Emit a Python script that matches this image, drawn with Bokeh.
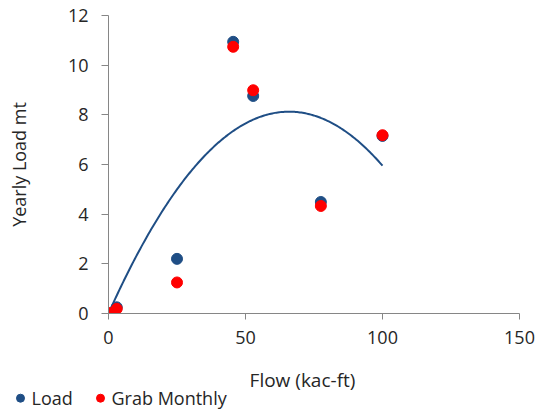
import numpy as np
from bokeh.plotting import figure
from bokeh.layouts import column, row
from bokeh.models import Range1d, FixedTicker
from bokeh.core.properties import value
from bokeh.embed import file_html
from bokeh.resources import INLINE

# Data
flow = [0, 3, 25, 45.5, 52.8, 77.5, 100]
load = [0, 0.25, 2.2, 10.94, 8.76, 4.49, 7.15]
grab_monthly = [0.02, 0.19, 1.25, 10.74, 8.99, 4.33, 7.18]
x_ticks = [0, 50, 100, 150]
y_ticks = [0, 2, 4, 6, 8, 10, 12]
series_names = ["Load", "Grab Monthly"]
x_title = "Flow (kac-ft)"
y_title = "Yearly Load mt"

BLUE = "#1F4E85"
RED = "#FF0000"
AXIS = "#868686"
TEXT = "#262626"
FONT = "Open Sans"
FS = "18px"

# 2nd-order polynomial trendline of Load, intercept set to 0 (as in the spreadsheet)
xa = np.array(flow, dtype=float)
ya = np.array(load, dtype=float)
A = np.column_stack([xa, xa ** 2])
coef, *_ = np.linalg.lstsq(A, ya, rcond=None)
trend_x = np.linspace(min(flow), max(flow), 200)
trend_y = coef[0] * trend_x + coef[1] * trend_x ** 2

p = figure(width=540, height=360, output_backend="svg", toolbar_location=None,
           x_range=Range1d(0, 150), y_range=Range1d(0, 12),
           min_border_left=108, min_border_right=21, min_border_top=15, min_border_bottom=47)
p.outline_line_color = None
p.grid.grid_line_color = None
p.background_fill_color = "white"
p.border_fill_color = "white"

p.line(trend_x, trend_y, line_color=BLUE, line_width=2)
p.scatter(flow, load, size=11, marker="circle", fill_color=BLUE, line_color=BLUE)
p.scatter(flow, grab_monthly, size=11, marker="circle", fill_color=RED, line_color=RED)

for ax in (p.xaxis[0], p.yaxis[0]):
    ax.axis_line_color = AXIS
    ax.major_tick_line_color = AXIS
    ax.minor_tick_line_color = None
    ax.major_tick_in = 0
    ax.major_label_text_font = FONT
    ax.major_label_text_font_size = FS
    ax.major_label_text_color = TEXT
    ax.axis_label_text_font = FONT
    ax.axis_label_text_font_size = FS
    ax.axis_label_text_color = TEXT
    ax.axis_label_text_font_style = "normal"

p.xaxis.ticker = FixedTicker(ticks=x_ticks)
p.yaxis.ticker = FixedTicker(ticks=y_ticks)
p.yaxis.axis_label = y_title
p.xaxis.major_tick_out = 6
p.xaxis.major_label_standoff = 11
p.yaxis.major_tick_out = 7
p.yaxis.major_label_standoff = 13
p.yaxis.axis_label_standoff = 34

# Strip below the chart (pixel-scaled): x-axis title and the legend keys/labels
lg = figure(width=540, height=50, output_backend="svg", toolbar_location=None,
            x_range=Range1d(0, 540), y_range=Range1d(0, 50),
            x_axis_type=None, y_axis_type=None,
            min_border=0, min_border_left=0, min_border_right=0,
            min_border_top=0, min_border_bottom=0)
lg.outline_line_color = None
lg.grid.grid_line_color = None
lg.text([302], [30.6], text=[x_title], text_font=value(FONT), text_font_size="19px",
        text_color=TEXT, text_baseline="middle", text_align="center")
key_x = [20, 100]
lg.scatter(key_x, [12.3, 12.3], size=8, marker="circle",
           fill_color=[BLUE, RED], line_color=[BLUE, RED])
lg.text([k + 11 for k in key_x], [12.6, 12.6], text=series_names, text_font=value(FONT),
        text_font_size=FS, text_color=TEXT, text_baseline="middle", text_align="left")

open("out.html", "w").write(file_html(column(p, row(lg)), INLINE))
